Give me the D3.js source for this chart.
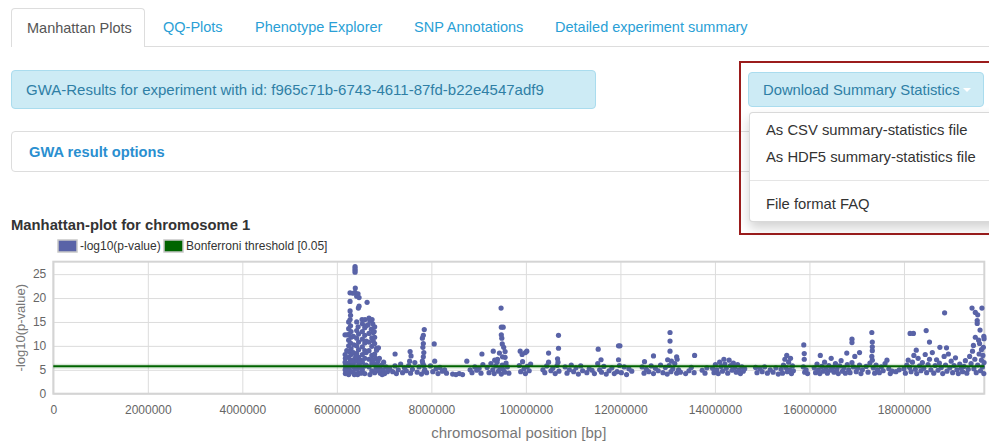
<!DOCTYPE html>
<html lang="en">
<head>
<meta charset="UTF-8">
<title>Manhattan plot chromosome 1</title>
<script src="https://d3js.org/d3.v7.min.js"></script>
<style>
  body { margin: 0; width: 989px; height: 441px; overflow: hidden; background: #fff; position: relative;
         font-family: "Helvetica Neue", Helvetica, Arial, "Liberation Sans", sans-serif; }
  .abs { position: absolute; box-sizing: border-box; }
  .tab { position: absolute; top: 8px; height: 39px; line-height: 38px; font-size: 14.5px; color: #2a9fd6; white-space: nowrap; }
  .tab.active { left: 11px; width: 134px; padding-left: 15px; color: #555; background: #fff;
                border: 1px solid #ddd; border-bottom: none; border-radius: 4px 4px 0 0; box-sizing: border-box; }
  .item { position: absolute; left: 766px; font-size: 14.8px; color: #333; white-space: nowrap; line-height: 20px; }
  #chart { position: absolute; left: 0; top: 0; }
</style>
</head>
<body>
  <div class="abs" style="left:145px;top:46px;width:844px;height:1px;background:#ddd"></div>
  <div class="tab active">Manhattan Plots</div>
  <div class="tab" style="left:163px">QQ-Plots</div>
  <div class="tab" style="left:255px">Phenotype Explorer</div>
  <div class="tab" style="left:414px">SNP Annotations</div>
  <div class="tab" style="left:555px">Detailed experiment summary</div>

  <div class="abs" style="left:11px;top:70px;width:585px;height:39px;background:#cdebf5;border:1px solid #aadcee;border-radius:4px;padding-left:14px;line-height:38px;font-size:15px;color:#2f7fa5;white-space:nowrap">GWA-Results for experiment with id: f965c71b-6743-4611-87fd-b22e4547adf9</div>

  <div class="abs" style="left:11px;top:131px;width:1000px;height:41px;border:1px solid #ddd;border-radius:4px;padding-left:17px;line-height:40px;font-size:14.7px;font-weight:bold;color:#2a8fd0">GWA result options</div>

  <div class="abs" style="left:739px;top:61px;width:270px;height:174px;border:2px solid #9b1c1c;background:transparent"></div>
  <div class="abs" style="left:748px;top:72px;width:236px;height:35px;background:#cdebf5;border:1px solid #aadcee;border-radius:4px;padding-left:14px;line-height:34px;font-size:14.8px;color:#2f7fa5;white-space:nowrap">Download Summary Statistics</div>
  <div class="abs" style="left:963px;top:88px;width:0;height:0;border-left:4px solid transparent;border-right:4px solid transparent;border-top:4px solid #fff"></div>
  <div class="abs" style="left:749px;top:112px;width:260px;height:110px;background:#fff;border:1px solid rgba(0,0,0,0.15);border-radius:4px;box-shadow:0 6px 12px rgba(0,0,0,0.18)"></div>
  <div class="item" style="top:120px">As CSV summary-statistics file</div>
  <div class="item" style="top:147px">As HDF5 summary-statistics file</div>
  <div class="abs" style="left:750px;top:180px;width:239px;height:1px;background:#e5e5e5"></div>
  <div class="item" style="top:194px">File format FAQ</div>

  <svg id="chart" width="989" height="441"></svg>
<script>
// chart text
const chartTitle = "Manhattan-plot for chromosome 1";
const legendLabels = ["-log10(p-value)", "Bonferroni threshold [0.05]"];
const xTitle = "chromosomal position [bp]";
const yTitle = "-log10(p-value)";

// axis ticks
const xTickValues = [0, 2000000, 4000000, 6000000, 8000000, 10000000, 12000000, 14000000, 16000000, 18000000];
const yTickValues = [0, 5, 10, 15, 20, 25];
const chromLength = 19700000;
const bonferroni = 5.72;

// SNPs as [position in kb, -log10(p)]
const peak6M = [
  [6385,26.6],[6385,26.2],[6385,25.8],[6385,25.4],[6390,22.1],
  [6279,21.1],[6343,21.0],[6385,21.2],[6448,20.9],[6420,20.4],[6470,20.1],
  [6279,19.3],[6640,19.1],[6470,18.3],[6455,17.9],[6280,17.3],[6290,16.4],
  [6280,15.5],[6533,15.5],[6597,15.5],[6745,15.5],[6680,15.8],
  [6250,15.0],[6290,14.2],[6250,13.6],[6300,13.0],[6260,12.4],[6300,11.8],[6250,11.2],[6290,10.6],
  [6250,10.0],[6300,9.4],[6260,8.8],[6300,8.2],[6250,7.6],[6290,7.0],[6250,6.4],[6300,5.8],
  [6260,5.2],[6300,4.6],[6250,4.0],
  [6173,12.3],[6215,12.3],[6175,8.2],[6180,7.4],[6175,6.6],[6180,5.8],[6175,5.0],[6180,4.2],
  [6210,9.0],[6215,6.0],[6215,4.6],
  [6350,12.0],[6360,10.2],[6350,8.6],[6370,7.2],[6350,6.2],[6370,5.4],[6350,4.5],[6370,4.0],
  [6420,15.0],[6450,14.0],[6420,13.2],[6460,12.5],[6420,11.6],[6460,10.8],[6420,10.0],[6460,9.2],
  [6420,8.4],[6460,7.6],[6420,6.8],[6460,6.0],[6420,5.2],[6460,4.4],[6440,4.0],
  [6540,14.6],[6590,13.8],[6540,13.0],[6590,12.2],[6540,11.4],[6590,10.6],[6540,9.8],[6590,9.0],
  [6540,8.2],[6590,7.4],[6540,6.6],[6590,5.8],[6540,5.0],[6590,4.2],[6500,7.0],[6500,5.5],
  [6510,4.3],[6620,8.6],[6620,11.0],[6620,14.2],
  [6700,15.2],[6660,14.4],[6730,13.5],[6680,12.6],[6740,11.7],[6680,10.8],[6740,9.9],[6680,9.0],
  [6740,8.0],[6680,7.2],[6740,6.4],[6680,5.6],[6740,4.8],[6700,4.0],[6760,14.6],[6770,12.8],[6770,11.0],
  [6800,14.0],[6790,13.0],[6800,11.8],[6800,10.5],[6840,9.5],[6880,9.6],[6840,9.1],[6800,8.3],
  [6820,7.4],[6800,6.2],[6830,5.3],[6800,4.4],
  [6870,6.8],[6900,5.5],[6920,4.3],[6950,6.0],[6980,5.0],[7010,4.2],[7040,5.6],[7070,4.6],
  [7090,5.2],[6880,4.8],[6960,4.0],
  [6320,6.8],[6400,7.8],[6480,6.4],[6620,6.0],[6760,7.0],[6860,6.0],[6900,7.4],[6990,6.6]
];

const peaks7to11M = [
  [7120,5.2],[7180,4.6],[7230,5.8],[7232,8.3],[7260,4.2],[7300,5.0],[7350,6.2],[7390,4.4],
  [7430,5.4],[7470,4.8],[7520,5.9],[7540,6.8],[7550,8.8],[7560,4.3],[7570,7.9],[7600,5.1],
  [7650,6.5],[7700,4.5],[7740,5.6],[7790,4.1],[7820,6.3],[7860,5.0],[7900,4.4],
  [7850,13.4],[7830,12.2],[7810,11.6],[7830,10.5],[7820,9.7],[7840,8.6],[7830,7.7],[7810,6.8],
  [7840,5.9],[7850,4.7],
  [7980,5.8],[8030,4.6],[8060,10.4],[8070,6.8],[8100,5.2],[8140,4.2],[8180,5.5],[8230,4.7],
  [8280,5.0],[8320,4.3],[8450,4.1],[8520,4.0],[8590,4.2],[8660,4.0],
  [8750,6.8],[8820,5.0],[8860,4.4],[8920,5.6],[8960,4.9],[9010,5.3],[9050,4.3],[9070,8.3],[9090,6.1],
  [9180,5.5],[9220,4.4],[9260,6.3],[9300,5.0],[9310,8.9],[9330,4.2],[9340,7.0],[9360,5.8],
  [9390,6.6],[9400,7.2],[9420,4.7],[9450,5.4],[9480,4.1],[9500,6.0],[9520,5.1],[9550,4.5],
  [9580,6.4],[9610,5.6],[9640,4.3],
  [9475,17.9],[9480,13.9],[9520,13.9],[9480,12.3],[9490,11.6],[9500,10.4],[9530,9.7],[9440,8.5],
  [9560,8.8],[9505,7.7],[9560,7.6],
  [9860,5.9],[9880,8.9],[9890,4.6],[9920,8.2],[9930,6.7],[9960,5.2],[9990,8.6],[9990,4.2],
  [10020,8.9],[10030,5.7],[10070,4.8],[10100,6.2],
  [10360,5.0],[10400,4.4],[10440,5.8],[10480,8.5],[10480,6.6],[10530,4.8],[10570,5.3],[10620,4.2],
  [10660,5.9],[10670,7.3],[10680,6.6],[10690,12.2],[10690,9.5],[10700,4.7],
  [10830,5.6],[10870,4.3],[10920,5.0],[10960,6.0],[11010,4.6],[11060,5.4],[11110,4.1],[11160,5.8],
  [11200,4.8],[11290,4.4],[11340,5.2],[11400,4.9],[11450,4.2]
];

const peaks11to16M = [
  [11520,6.3],[11530,9.3],[11560,5.0],[11590,7.1],[11600,4.5],[11650,5.7],[11700,4.1],
  [11760,4.8],[11820,5.4],[11870,4.2],[11930,4.6],[11960,10.0],[11990,10.0],[11960,7.1],
  [11980,5.9],[12020,4.4],[12080,5.6],[12130,4.0],[12180,5.2],[12240,4.7],
  [12460,5.6],[12500,4.3],[12510,6.7],[12550,5.1],[12600,4.6],[12650,5.8],[12700,7.9],[12700,4.2],
  [12740,5.3],[12800,4.8],[12850,6.0],[12900,4.4],[12950,5.5],[12990,4.1],[13000,7.1],[13030,5.9],
  [13050,12.8],[13050,11.0],[13050,8.9],[13070,4.6],[13080,6.8],[13110,5.2],[13150,6.3],
  [13190,7.7],[13200,7.2],[13190,4.3],[13230,5.0],[13270,4.5],
  [13380,4.2],[13450,4.8],[13500,5.5],[13560,4.4],[13570,8.0],[13730,4.9],[13790,4.3],[13830,5.4],
  [13950,5.3],[13980,4.4],[14010,6.1],[14040,5.0],[14070,4.2],[14100,6.6],[14130,5.7],[14160,4.7],
  [14190,7.2],[14210,6.2],[14240,5.3],[14270,4.3],[14300,7.0],[14330,5.9],[14360,4.9],[14390,6.4],
  [14420,5.5],[14450,4.5],[14480,6.1],[14510,5.0],[14540,4.2],[14570,5.6],[14600,4.7],[14630,5.2],
  [14860,5.5],[14890,4.4],[14950,5.2],[15000,4.6],[15050,5.6],[15110,4.3],[15170,5.0],[15230,4.5],
  [15290,5.4],[15340,4.1],
  [15400,5.1],[15430,4.3],[15450,6.0],[15480,7.2],[15500,5.5],[15520,8.0],[15530,4.6],[15560,6.6],
  [15580,5.0],[15600,7.4],[15620,4.2],[15640,5.8],[15660,4.8],
  [15870,5.6],[15880,10.2],[15890,8.4],[15890,7.2],[15900,4.5],[15930,5.0],[15960,4.2]
];

const peaks16to20M = [
  [16100,5.4],[16130,4.4],[16160,6.2],[16190,5.0],[16220,4.2],[16230,8.0],[16260,5.7],[16290,4.7],
  [16320,6.6],[16350,5.2],[16380,4.3],[16410,5.9],[16440,4.9],[16460,7.4],[16490,5.5],[16520,4.5],
  [16550,6.3],[16580,5.1],[16610,4.2],[16640,5.8],[16670,6.9],[16700,4.7],[16730,5.4],[16760,4.3],
  [16790,8.5],[16800,6.1],[16830,5.0],[16860,4.4],[16900,11.4],[16900,10.7],[16900,6.5],[16930,5.6],
  [16960,7.8],[16990,4.6],[17020,5.3],[17060,8.6],[17060,6.0],[17090,4.2],[17120,5.0],
  [17200,5.7],[17240,4.5],[17280,6.4],[17320,12.8],[17330,10.8],[17330,9.8],[17330,9.0],[17320,7.8],
  [17330,7.0],[17350,5.4],[17380,4.3],[17410,6.0],[17440,5.0],[17480,4.4],[17520,5.6],[17560,4.8],
  [17600,6.3],[17640,7.0],[17680,5.2],[17710,4.2],[17750,4.7],[17830,4.6],[17900,5.0],
  [18000,5.2],[18030,4.3],[18060,6.0],[18090,7.0],[18120,5.5],[18130,12.6],[18150,4.6],[18180,6.6],
  [18200,12.6],[18210,8.0],[18240,5.1],[18260,9.1],[18270,4.2],[18300,7.4],[18330,5.8],[18360,4.8],
  [18390,6.5],[18420,5.3],[18450,8.2],[18470,13.2],[18480,4.4],[18510,6.1],[18540,10.8],[18540,7.2],
  [18570,5.0],[18600,8.6],[18630,4.3],[18660,5.9],[18690,7.1],[18720,4.9],[18750,6.4],[18760,9.7],
  [18790,5.5],[18820,4.2],[18850,7.8],[18860,16.9],[18880,6.0],[18900,9.6],[18910,4.7],[18940,8.3],
  [18970,5.4],[19000,6.8],[19030,4.4],[19060,5.9],[19090,7.5],[19120,5.0],[19150,4.2],[19180,6.2],
  [19210,5.3],[19240,4.6],[19270,5.7],[19300,6.9],[19330,4.3],[19360,5.1],[19390,7.8],[19420,6.3],
  [19440,17.9],[19450,8.9],[19470,10.1],[19480,5.2],[19500,7.2],[19510,17.0],[19510,11.8],[19530,4.4],
  [19550,15.3],[19550,14.7],[19560,16.5],[19560,6.0],[19580,11.2],[19590,8.3],[19610,13.3],[19620,4.8],
  [19600,10.5],[19640,9.2],[19640,7.0],[19650,17.9],[19660,5.6],[19670,8.0],[19680,9.7],[19690,12.0],
  [19690,4.2],[19695,6.5],[19695,11.5]
];

const colors = { snp: "#5963a7", threshold: "#006400", grid: "#dcdcdc", frame: "#d4d4d4", tick: "#666" };

const snps = [].concat(peak6M, peaks7to11M, peaks11to16M, peaks16to20M)
  .map(([kb, score]) => ({ pos: kb * 1000, score: score }));

const plot = { left: 53.3, right: 984.3, top: 261.7, bottom: 393.7 };

const x = d3.scaleLinear().domain([0, chromLength]).range([plot.left, plot.right]);
const y = d3.scaleLinear().domain([0, 27.6]).range([plot.bottom, plot.top]);

const svg = d3.select("#chart");
svg.style("font-family", "'Helvetica Neue', Helvetica, Arial, 'Liberation Sans', sans-serif");

// title
svg.append("text")
  .attr("x", 11).attr("y", 230)
  .attr("font-size", 14.8).attr("font-weight", "bold").attr("fill", "#333")
  .text(chartTitle);

// legend
const legendColors = [colors.snp, colors.threshold];
const legendX = [58, 164];
legendLabels.forEach((label, i) => {
  svg.append("rect")
    .attr("x", legendX[i]).attr("y", 240).attr("width", 19).attr("height", 12)
    .attr("fill", legendColors[i]).attr("stroke", "#c8c8c8").attr("stroke-width", 1.5);
  svg.append("text")
    .attr("x", legendX[i] + 22).attr("y", 250)
    .attr("font-size", 12).attr("fill", "#333")
    .text(label);
});

// grid + tick labels
const xAxis = d3.axisBottom(x)
  .tickValues(xTickValues)
  .tickFormat(d3.format("d"))
  .tickSize(-(plot.bottom - plot.top))
  .tickPadding(12);

const yAxis = d3.axisLeft(y)
  .tickValues(yTickValues)
  .tickSize(-(plot.right - plot.left))
  .tickPadding(7);

const gx = svg.append("g").attr("transform", `translate(0,${plot.bottom})`).call(xAxis);
const gy = svg.append("g").attr("transform", `translate(${plot.left},0)`).call(yAxis);

[gx, gy].forEach(g => {
  g.select(".domain").remove();
  g.selectAll(".tick line").attr("stroke", colors.grid);
  g.selectAll(".tick text").attr("fill", colors.tick).attr("font-size", 12)
    .style("font-family", "'Helvetica Neue', Helvetica, Arial, 'Liberation Sans', sans-serif");
});

// frame
svg.append("rect")
  .attr("x", plot.left).attr("y", plot.top)
  .attr("width", plot.right - plot.left).attr("height", plot.bottom - plot.top)
  .attr("fill", "none").attr("stroke", colors.frame).attr("stroke-width", 2);

// points
svg.append("g")
  .selectAll("circle")
  .data(snps)
  .join("circle")
  .attr("cx", d => x(d.pos))
  .attr("cy", d => y(d.score))
  .attr("r", 2.6)
  .attr("fill", colors.snp);

// bonferroni line, with a soft halo
svg.append("line")
  .attr("x1", x(0)).attr("x2", x(chromLength))
  .attr("y1", y(bonferroni)).attr("y2", y(bonferroni))
  .attr("stroke", colors.threshold).attr("stroke-opacity", 0.15).attr("stroke-width", 5);
svg.append("line")
  .attr("x1", x(0)).attr("x2", x(chromLength))
  .attr("y1", y(bonferroni)).attr("y2", y(bonferroni))
  .attr("stroke", colors.threshold).attr("stroke-width", 2);

// axis titles
svg.append("text")
  .attr("x", (plot.left + plot.right) / 2).attr("y", 438)
  .attr("text-anchor", "middle").attr("font-size", 15).attr("fill", "#777")
  .text(xTitle);

svg.append("text")
  .attr("transform", `translate(25,${(plot.top + plot.bottom) / 2}) rotate(-90)`)
  .attr("text-anchor", "middle").attr("font-size", 13).attr("fill", "#777")
  .text(yTitle);
</script>
</body>
</html>
